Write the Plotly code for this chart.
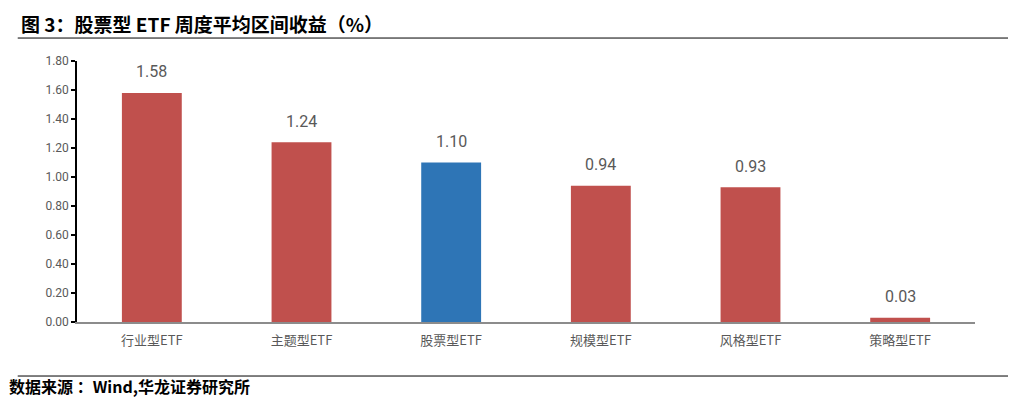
import plotly.graph_objects as go

categories = ["行业型ETF", "主题型ETF", "股票型ETF", "规模型ETF", "风格型ETF", "策略型ETF"]
values = [1.58, 1.24, 1.10, 0.94, 0.93, 0.03]
colors = ["#C0504D", "#C0504D", "#2E75B6", "#C0504D", "#C0504D", "#C0504D"]
y_ticks = [0.0, 0.2, 0.4, 0.6, 0.8, 1.0, 1.2, 1.4, 1.6, 1.8]

title_text = "图 3：股票型 ETF 周度平均区间收益（%）"
source_text = "数据来源 ：Wind,华龙证券研究所"

fig = go.Figure()
fig.add_trace(go.Bar(
    x=categories, y=values,
    marker=dict(color=colors, line=dict(width=0)),
    hoverinfo="x+y",
))

# 数值标签放在柱子上方
for c, v in zip(categories, values):
    fig.add_annotation(x=c, y=v, text=f"{v:.2f}", showarrow=False,
                       yshift=21, font=dict(size=16, color="#595959", family="Roboto"))

# 页面 body 默认有 8px 边距，整体尺寸相应缩小
fig.update_layout(
    width=1000, height=392,
    margin=dict(l=69, r=33, t=53, b=78),
    plot_bgcolor="white", paper_bgcolor="white",
    bargap=0.6, showlegend=False,
    font=dict(family="Noto Sans CJK SC", color="#595959"),
)
fig.update_xaxes(
    showline=True, linecolor="#8c8c8c", linewidth=1.5,
    ticks="", ticklabelstandoff=6,
    tickfont=dict(size=13, color="#595959", family="Noto Sans CJK SC"),
    showgrid=False,
)
fig.update_yaxes(
    range=[0, 1.8], tickvals=y_ticks, tickformat=".2f",
    showline=True, linecolor="black", linewidth=1.5,
    ticks="outside", ticklen=4, tickcolor="black", tickwidth=1.5,
    tickfont=dict(size=12, color="#595959", family="Roboto"),
    showgrid=False, zeroline=False,
)

# 标题、分隔线和来源
fig.add_annotation(text=f"<b>{title_text}</b>", xref="paper", yref="paper",
                   x=-0.064, y=1.2, xanchor="left", yanchor="top", showarrow=False,
                   borderpad=0,
                   font=dict(size=19, color="black", family="Noto Sans CJK SC"))
fig.add_annotation(text=f"<b>{source_text}</b>", xref="paper", yref="paper",
                   x=-0.0768, y=-0.296, xanchor="left", yanchor="bottom", showarrow=False,
                   borderpad=0,
                   font=dict(size=16, color="black", family="Noto Sans CJK SC"))
fig.add_shape(type="line", xref="paper", yref="paper", x0=-0.066, x1=1.037, y0=1.088, y1=1.088,
              line=dict(color="black", width=1))
fig.add_shape(type="line", xref="paper", yref="paper", x0=-0.066, x1=1.037, y0=-0.207, y1=-0.207,
              line=dict(color="black", width=1))

fig.write_html("out.html")
